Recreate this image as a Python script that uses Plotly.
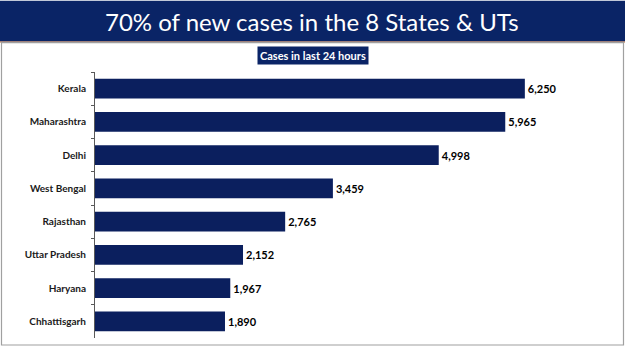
import plotly.graph_objects as go

states = ["Kerala", "Maharashtra", "Delhi", "West Bengal", "Rajasthan",
          "Uttar Pradesh", "Haryana", "Chhattisgarh"]
cases = [6250, 5965, 4998, 3459, 2765, 2152, 1967, 1890]
value_labels = [f"{v:,}" for v in cases]

W, H = 625, 351
L, R, T, B = 95, 595, 71.5, 338  # plot area in pixels

def fx(px):
    return (px - L) / (R - L)

def fy(py):
    return (B - py) / (B - T)

NAVY = "#0b1f5e"

fig = go.Figure()
fig.add_trace(go.Bar(
    x=cases, y=states, orientation="h",
    marker=dict(color=NAVY, line=dict(width=0)),
    text=value_labels, textposition="outside",
    textfont=dict(family="Lato", size=11, color="#000000", weight="bold"),
    cliponaxis=False, hoverinfo="skip",
))

shapes = [
    # title banner
    dict(type="rect", xref="paper", yref="paper", x0=fx(0), x1=fx(W), y0=fy(41), y1=fy(0),
         fillcolor="#0a2466", line=dict(width=0), layer="below"),
    # orange rule under banner
    dict(type="line", xref="paper", yref="paper", x0=fx(0), x1=fx(W), y0=fy(41.5), y1=fy(41.5),
         line=dict(color="#c0703a", width=1)),
    # gray frame
    dict(type="rect", xref="paper", yref="paper", x0=fx(1.5), x1=fx(623.5), y0=fy(345), y1=fy(42),
         fillcolor="rgba(0,0,0,0)", line=dict(color="#a0a0a0", width=1.2)),
]

annotations = [
    dict(text="70% of new cases in the 8 States & UTs", xref="paper", yref="paper",
         x=fx(312), y=fy(21), xanchor="center", yanchor="middle", showarrow=False,
         font=dict(family="Lato", size=24, color="#ffffff")),
    dict(text="<b>Cases in last 24 hours</b>", xref="paper", yref="paper",
         x=fx(312.5), y=fy(55), xanchor="center", yanchor="middle", showarrow=False,
         bgcolor="#0a2466", borderpad=2,
         font=dict(family="Lato", size=11, color="#ffffff")),
]

fig.update_layout(
    width=W, height=H,
    margin=dict(l=L, r=W - R, t=T, b=H - B, pad=0),
    paper_bgcolor="#ffffff", plot_bgcolor="#ffffff",
    showlegend=False, bargap=0.4,
    shapes=shapes, annotations=annotations,
    xaxis=dict(range=[0, 7270], visible=False, showgrid=False, zeroline=False),
    yaxis=dict(categoryorder="array", categoryarray=states, autorange="reversed",
               showline=True, linecolor="#595959", linewidth=1,
               ticks="outside", tickson="boundaries", ticklen=3, tickcolor="#595959",
               showgrid=False, ticklabelstandoff=6,
               tickfont=dict(family="Lato", size=10, color="#1a1a1a", weight="bold")),
)

fig.write_html("out.html")
